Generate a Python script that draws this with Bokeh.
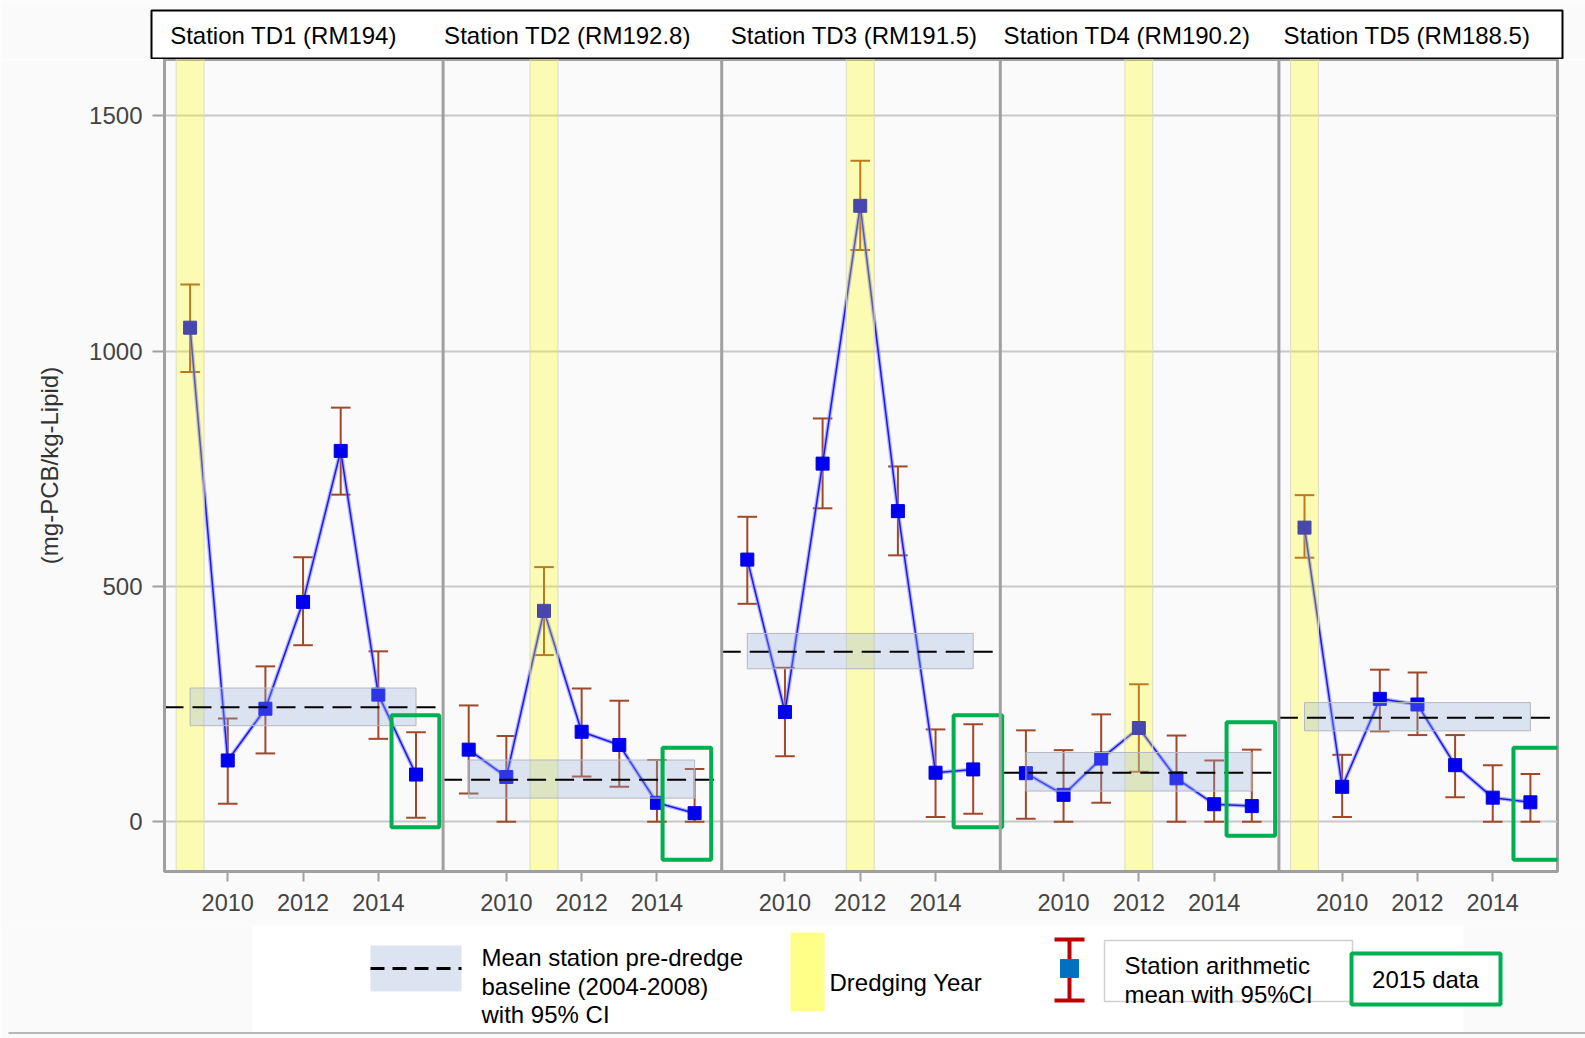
from bokeh.plotting import figure
from bokeh.layouts import column
from bokeh.models import Range1d, FixedTicker, CustomJSTickFormatter, Span
from bokeh.core.properties import value
from bokeh.embed import file_html
from bokeh.resources import INLINE

# ---------------- data ----------------
stations = ["Station TD1 (RM194)", "Station TD2 (RM192.8)", "Station TD3 (RM191.5)",
            "Station TD4 (RM190.2)", "Station TD5 (RM188.5)"]
years = [2009, 2010, 2011, 2012, 2013, 2014, 2015]
td1_mean = [1050, 130, 240, 467, 788, 270, 100]
td1_upper = [1142, 219, 330, 562, 880, 362, 190]
td1_lower = [956, 38, 145, 375, 695, 176, 8]
td2_mean = [153, 95, 448, 191, 163, 40, 18]
td2_upper = [247, 182, 541, 283, 257, 131, 112]
td2_lower = [60, 0, 354, 96, 74, 0, 0]
td3_mean = [557, 233, 761, 1309, 660, 104, 111]
td3_upper = [648, 327, 857, 1405, 755, 196, 207]
td3_lower = [463, 139, 666, 1215, 566, 10, 17]
td4_mean = [103, 57, 134, 199, 92, 37, 33]
td4_upper = [194, 152, 228, 292, 183, 130, 153]
td4_lower = [6, 0, 40, 106, 0, 0, 0]
td5_mean = [625, 74, 261, 249, 120, 51, 41]
td5_upper = [694, 142, 323, 317, 184, 120, 101]
td5_lower = [561, 10, 192, 184, 52, 0, 0]
baseline_mean = [243, 89, 361, 104, 221]
baseline_lower = [204, 50, 325, 65, 193]
baseline_upper = [284, 131, 400, 147, 253]
dredging_year = [2009, 2011, 2012, 2012, 2009]
tick_years = [2010, 2012, 2014]
y_ticks = [0, 500, 1000, 1500]

means = [td1_mean, td2_mean, td3_mean, td4_mean, td5_mean]
uppers = [td1_upper, td2_upper, td3_upper, td4_upper, td5_upper]
lowers = [td1_lower, td2_lower, td3_lower, td4_lower, td5_lower]

# 2015-data highlight boxes (annotation geometry, per panel)
hl_x0 = [2014.35, 2014.15, 2014.48, 2014.33, 2014.55]
hl_x1 = [2015.62, 2015.44, 2015.77, 2015.62, 2015.87]
hl_y0 = [-12, -81, -12, -30, -81]
hl_y1 = [226, 157, 226, 211, 157]

# ---------------- layout constants ----------------
W = 1585
X0 = 2008.32
PW = 7.4          # panel width in years
FONT = value("Liberation Sans")
BG = "#FAFAFA"


def blank(h):
    f = figure(width=W, height=h, x_range=Range1d(0, W), y_range=Range1d(0, h),
               output_backend="svg", toolbar_location=None, min_border=0,
               x_axis_type=None, y_axis_type=None, frame_align=False)
    f.grid.visible = False
    f.outline_line_color = None
    f.background_fill_color = BG
    f.border_fill_color = BG
    return f


# ---------------- header ----------------
hdr = blank(59)
hdr.quad(left=[151], right=[1562], bottom=[1], top=[49], fill_color="white",
         line_color="black", line_width=2)
hdr.text(x=[283, 567, 853.6, 1126.5, 1406.5], y=[24] * 5, text=stations,
         text_font=FONT, text_font_size="24px", text_align="center",
         text_baseline="middle", text_color="black")

# ---------------- main ----------------
p = figure(width=W, height=866, x_range=Range1d(X0, X0 + 5 * PW),
           y_range=Range1d(-106, 1620), output_backend="svg", toolbar_location=None,
           min_border_left=164, min_border_right=28, min_border_top=0,
           min_border_bottom=54, frame_align=False)
p.background_fill_color = BG
p.border_fill_color = BG
p.outline_line_color = "#A0A0A0"
p.outline_line_width = 3
p.xgrid.visible = False
p.ygrid.ticker = FixedTicker(ticks=y_ticks)
p.ygrid.grid_line_color = "#C8C8C8"
p.ygrid.grid_line_width = 2

p.yaxis.ticker = FixedTicker(ticks=y_ticks)
p.yaxis.axis_label = "(mg-PCB/kg-Lipid)"
p.yaxis.axis_label_text_font = "Liberation Sans"
p.yaxis.axis_label_text_font_size = "24px"
p.yaxis.axis_label_text_font_style = "normal"
p.yaxis.axis_label_text_color = "#333333"
p.yaxis.axis_label_standoff = 23
p.yaxis.major_label_text_font = "Liberation Sans"
p.yaxis.major_label_text_font_size = "24px"
p.yaxis.major_label_text_color = "#444444"
p.yaxis.major_label_standoff = 10
p.yaxis.major_tick_out = 12
p.yaxis.major_tick_in = 0
p.yaxis.minor_tick_line_color = None
p.yaxis.axis_line_color = "#A0A0A0"
p.yaxis.axis_line_width = 3
p.yaxis.major_tick_line_color = "#A0A0A0"
p.yaxis.major_tick_line_width = 2

xt = [t + k * PW for k in range(5) for t in tick_years]
p.xaxis.ticker = FixedTicker(ticks=xt)
p.xaxis.formatter = CustomJSTickFormatter(
    args=dict(x0=X0, pw=PW),
    code="const k = Math.floor((tick - x0) / pw); return String(Math.round(tick - k * pw));")
p.xaxis.major_label_text_font = "Liberation Sans"
p.xaxis.major_label_text_font_size = "23.5px"
p.xaxis.major_label_text_color = "#444444"
p.xaxis.major_label_standoff = 12
p.xaxis.major_tick_out = 10
p.xaxis.major_tick_in = 0
p.xaxis.minor_tick_line_color = None
p.xaxis.axis_line_color = "#A0A0A0"
p.xaxis.axis_line_width = 3
p.xaxis.major_tick_line_color = "#A0A0A0"
p.xaxis.major_tick_line_width = 2

CAP = 0.26
for k in range(5):
    off = k * PW
    xs = [yr + off for yr in years]
    # error bars
    p.segment(x0=xs, x1=xs, y0=lowers[k], y1=uppers[k], line_color="#A0482A", line_width=2)
    p.segment(x0=[x - CAP for x in xs], x1=[x + CAP for x in xs], y0=uppers[k], y1=uppers[k],
              line_color="#A0482A", line_width=2)
    p.segment(x0=[x - CAP for x in xs], x1=[x + CAP for x in xs], y0=lowers[k], y1=lowers[k],
              line_color="#A0482A", line_width=2)
    # connecting line
    p.line(xs, means[k], line_color="#8080FF", line_width=4, line_alpha=0.6)
    p.line(xs, means[k], line_color="#1A1AF0", line_width=1.5)
    p.scatter(xs, means[k], marker="square", size=13, fill_color="#0000F0",
              line_color="#0000E0")

# dredging-year bands (overlay)
dl = [d + k * PW - 0.37 for k, d in enumerate(dredging_year)]
dr = [d + k * PW + 0.37 for k, d in enumerate(dredging_year)]
p.quad(left=dl, right=dr, bottom=[-106] * 5, top=[1620] * 5, fill_color="#FFFF00",
       fill_alpha=0.28, line_color="#DCDCC0", line_width=1)

# baseline CI bands (overlay)
bl = [years[0] + k * PW for k in range(5)]
br = [years[-1] + k * PW for k in range(5)]
p.quad(left=bl, right=br, bottom=baseline_lower, top=baseline_upper, fill_color="#96B1DF",
       fill_alpha=0.3, line_color="#B4B8C0", line_width=1)

# baseline mean dashed lines across panel
for k in range(5):
    p.line([X0 + k * PW, X0 + (k + 1) * PW], [baseline_mean[k]] * 2, line_color="black",
           line_width=2, line_dash="19 9")

# panel dividers
for k in range(1, 5):
    p.add_layout(Span(location=X0 + k * PW, dimension="height", line_color="#A0A0A0",
                      line_width=3))

# 2015 highlight boxes
p.quad(left=[a + k * PW for k, a in enumerate(hl_x0)],
       right=[a + k * PW for k, a in enumerate(hl_x1)],
       bottom=hl_y0, top=hl_y1, fill_color=None, line_color="#00B050", line_width=4)

# ---------------- legend ----------------
lg = blank(113)
lg.quad(left=[252], right=[1463], bottom=[6], top=[113], fill_color="white", line_color=None)
lg.line([8, W], [5.5, 5.5], line_color="#B8B8B8", line_width=2)
# baseline swatch
lg.quad(left=[370], right=[461], bottom=[47], top=[93], fill_color="#DCE3F1", line_color=None)
lg.line([370, 461], [70, 70], line_color="black", line_width=3, line_dash="14 8")
lg.text(x=[481] * 3, y=[81, 52.5, 24],
        text=["Mean station pre-dredge", "baseline (2004-2008)", "with 95% CI"],
        text_font=FONT, text_font_size="24px", text_baseline="middle", text_color="black")
# dredging swatch
lg.quad(left=[790], right=[824], bottom=[27], top=[106], fill_color="#FFFF88", line_color=None)
lg.text(x=[829], y=[56.5], text=["Dredging Year"], text_font=FONT, text_font_size="24px",
        text_baseline="middle", text_color="black")
# mean with CI icon
lg.segment(x0=[1069, 1054, 1054], x1=[1069, 1084, 1084], y0=[38, 99, 38], y1=[99, 99, 38],
           line_color="#C00000", line_width=4)
lg.scatter([1069], [70], marker="square", size=18, fill_color="#0070C0", line_color="#0070C0")
lg.quad(left=[1104], right=[1352], bottom=[37], top=[98], fill_color="white",
        line_color="#D0D0D0", line_width=1.5)
lg.text(x=[1124, 1124], y=[73, 44], text=["Station arithmetic", "mean with 95%CI"],
        text_font=FONT, text_font_size="24px", text_baseline="middle", text_color="black")
# 2015 data box
lg.quad(left=[1351], right=[1500], bottom=[34], top=[85], fill_color="white",
        line_color="#00B050", line_width=4)
lg.text(x=[1425], y=[59.5], text=["2015 data"], text_font=FONT, text_font_size="24px",
        text_align="center", text_baseline="middle", text_color="black")

layout = column(hdr, p, lg, spacing=0)
html = file_html(layout, INLINE, title="PCB lipid by station")
html = html.replace("<body>", '<body style="background:#FAFAFA;margin:0">', 1)
open("out.html", "w").write(html)
